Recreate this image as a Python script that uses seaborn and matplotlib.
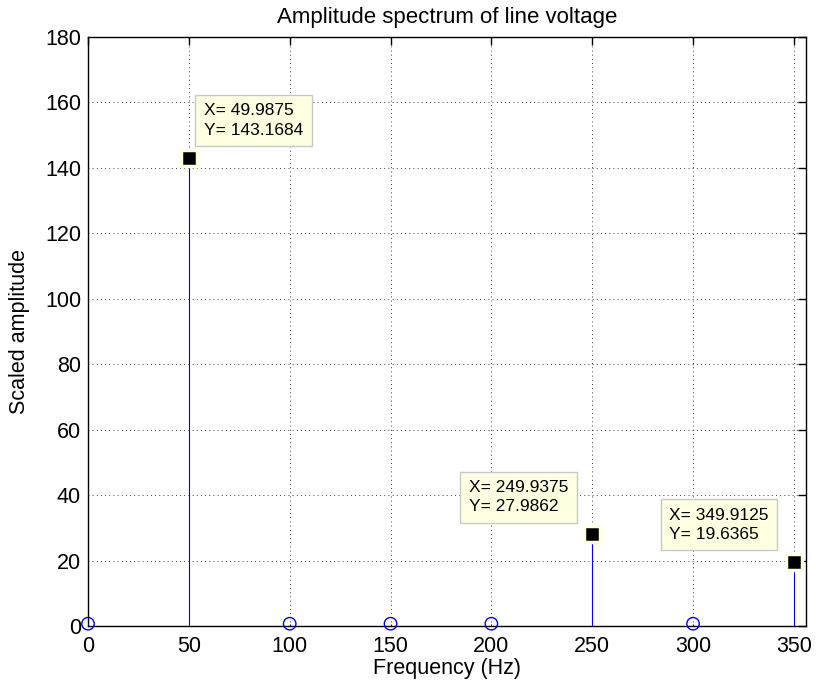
import numpy as np
import pandas as pd
import matplotlib
matplotlib.use("Agg")
import matplotlib.pyplot as plt
import seaborn as sns

freqs = [0.0, 49.9875, 100.0, 150.0, 200.0, 249.9375, 300.0, 349.9125]
amps = [0.7, 143.1684, 0.7, 0.7, 0.7, 27.9862, 0.7, 19.6365]
tip_x = [49.9875, 249.9375, 349.9125]
tip_y = [143.1684, 27.9862, 19.6365]
x_ticks = [0, 50, 100, 150, 200, 250, 300, 350]
y_ticks = [0, 20, 40, 60, 80, 100, 120, 140, 160, 180]

sns.set_style("white")
plt.rcParams['font.family'] = ['Liberation Sans', 'DejaVu Sans']
plt.rcParams['text.color'] = 'black'
plt.rcParams['axes.labelcolor'] = 'black'

df = pd.DataFrame({"f": freqs, "a": amps})

fig = plt.figure(figsize=(8.16, 6.87), dpi=100)
ax = fig.add_axes([88/816, 1-626/687, (806-88)/816, (626-37)/687])

ax.vlines(df["f"], 0, df["a"], color="#0000FF", lw=0.8, zorder=3)
sns.scatterplot(data=df, x="f", y="a", ax=ax, marker="o", s=80,
                facecolors="none", edgecolor="#0000FF", linewidth=1, zorder=4,
                clip_on=False)

ax.set_xlim(0, 356)
ax.set_ylim(0, 180)
ax.set_xticks(x_ticks)
ax.set_yticks(y_ticks)
ax.grid(True, color="black", linestyle=(0, (1, 4)), lw=0.6)
for s in ax.spines.values():
    s.set_visible(True)
    s.set_color("black")
    s.set_linewidth(1)
ax.tick_params(direction="in", length=6, width=1, top=True, right=True,
               labelsize=15.5, colors="black")
ax.tick_params(axis="x", pad=7)
ax.tick_params(axis="y", pad=5)
ax.set_xlabel("Frequency (Hz)", fontsize=15.5, labelpad=1)
ax.set_ylabel("Scaled amplitude", fontsize=15.5, labelpad=11)
ax.set_title("Amplitude spectrum of line voltage", fontsize=16, pad=10, color="black")

# data tips
ax.plot(tip_x, tip_y, linestyle="none", marker="s", markersize=11,
        markerfacecolor="black", markeredgecolor="#FFFFE1", markeredgewidth=2.5,
        zorder=6, clip_on=False)
offs = [(15, 20, "left"), (-24, 20, "right"), (-25, 20, "right")]
for x, y, (dx, dy, ha) in zip(tip_x, tip_y, offs):
    ax.annotate(f"X= {x:.4f}\nY= {y:.4f}", xy=(x, y), xytext=(dx, dy),
                textcoords="offset pixels", ha=ha, va="bottom", fontsize=12.5,
                multialignment="left", linespacing=1.35, zorder=7, color="black",
                bbox=dict(boxstyle="square,pad=0.5", fc="#FFFFE1", ec="#C8C8C8", lw=1))

fig.savefig("out.png", dpi=100)
